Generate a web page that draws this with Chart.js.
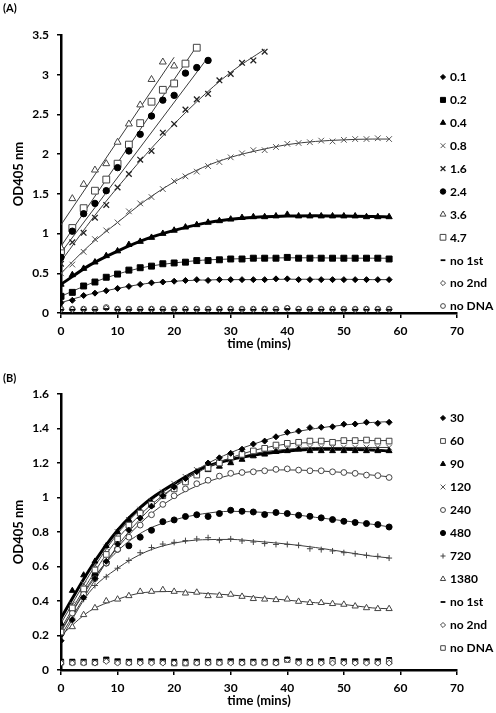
<!DOCTYPE html>
<html><head><meta charset="utf-8">
<script src="https://cdn.jsdelivr.net/npm/chart.js@4/dist/chart.umd.min.js"></script>
<style>
html,body{margin:0;padding:0;background:#fff;width:496px;height:713px;overflow:hidden}
canvas{position:absolute;left:0}
#cA{top:0}
#cB{top:357px}
</style></head><body>
<canvas id="cA" width="496" height="356"></canvas>
<canvas id="cB" width="496" height="356"></canvas>
<script>
// ---------- DATA ----------
const minutes = [0,2,4,6,8,10,12,14,16,18,20,22,24,26,28,30,32,34,36,38,40,42,44,46,48,50,52,54,56,58];
const fitMinutes = [0,5,10,15,20,25,30,35,40,45,50,55,58];
const xTicks = [0,10,20,30,40,50,60,70];
const yTicksA = [0,0.5,1,1.5,2,2.5,3,3.5];
const yTicksB = [0,0.2,0.4,0.6,0.8,1,1.2,1.4,1.6];

// Panel A series (OD405 per 2-min reading)
const labelsA = ['0.1','0.2','0.4','0.8','1.6','2.4','3.6','4.7','no 1st','no 2nd','no DNA'];
const a01 = [0.13,0.16,0.22,0.25,0.28,0.31,0.335,0.36,0.38,0.39,0.40,0.41,0.42,0.41,0.42,0.42,0.42,0.42,0.42,0.43,0.43,0.42,0.42,0.42,0.42,0.42,0.42,0.42,0.42,0.42];
const a02 = [0.21,0.26,0.34,0.39,0.45,0.49,0.54,0.57,0.59,0.62,0.63,0.64,0.66,0.66,0.67,0.68,0.68,0.69,0.69,0.69,0.70,0.69,0.69,0.69,0.69,0.69,0.69,0.69,0.69,0.68];
const a04 = [0.36,0.48,0.56,0.64,0.72,0.78,0.86,0.90,0.95,1.00,1.04,1.08,1.11,1.14,1.16,1.18,1.20,1.21,1.21,1.22,1.24,1.22,1.22,1.22,1.22,1.22,1.22,1.21,1.21,1.21];
const a08 = [0.50,0.61,0.77,0.93,1.04,1.14,1.28,1.38,1.46,1.56,1.66,1.72,1.78,1.85,1.90,1.96,2.01,2.05,2.05,2.09,2.13,2.14,2.15,2.17,2.16,2.18,2.19,2.19,2.20,2.19];
const a16 = [0.62,0.89,1.01,1.20,1.36,1.58,1.75,1.93,2.04,2.27,2.38,2.56,2.69,2.76,2.93,3.01,3.15,3.18,3.29];
const a24 = [0.70,1.03,1.25,1.38,1.54,1.83,2.04,2.25,2.48,2.68,2.74,3.02,3.09,3.18];
const a36 = [0.82,1.44,1.62,1.80,1.88,2.15,2.38,2.62,2.94,3.16,3.11];
const a47 = [0.78,1.07,1.32,1.54,1.68,1.88,2.12,2.39,2.66,2.81,2.89,3.14,3.34];
const aNo1st = [0.04,0.04,0.04,0.04,0.05,0.04,0.04,0.04,0.04,0.04,0.04,0.04,0.04,0.04,0.04,0.04,0.04,0.04,0.04,0.04,0.05,0.04,0.04,0.04,0.04,0.04,0.04,0.04,0.04,0.04];
const aNo2nd = [0.045,0.045,0.045,0.045,0.06,0.045,0.045,0.045,0.045,0.045,0.045,0.045,0.045,0.045,0.045,0.045,0.045,0.045,0.045,0.045,0.06,0.05,0.045,0.045,0.045,0.045,0.045,0.045,0.045,0.045];
const aNoDNA = [0.05,0.05,0.05,0.05,0.07,0.05,0.05,0.05,0.05,0.05,0.05,0.05,0.05,0.05,0.05,0.05,0.05,0.05,0.05,0.05,0.06,0.05,0.05,0.05,0.05,0.05,0.05,0.05,0.05,0.05];
// Panel A trend lines
const fitA01 = [0.13,0.235,0.31,0.37,0.40,0.415,0.42,0.42,0.425,0.425,0.425,0.42,0.42];
const fitA02 = [0.21,0.365,0.49,0.58,0.63,0.665,0.68,0.69,0.695,0.695,0.69,0.69,0.69];
const fitA04 = [0.36,0.60,0.78,0.93,1.04,1.125,1.18,1.21,1.22,1.225,1.22,1.215,1.21];
const fitA08 = [0.50,0.85,1.14,1.42,1.65,1.83,1.96,2.05,2.12,2.16,2.18,2.19,2.19];
const fitA16x = [0,6,12,18,24,30,36];
const fitA16 = [0.65,1.23,1.75,2.23,2.66,3.03,3.32];
const fitA24x = [0,26], fitA24 = [0.76,3.22];
const fitA36x = [0,20], fitA36 = [1.11,3.22];
const fitA47x = [0,24], fitA47 = [0.84,3.36];

// Panel B series
const labelsB = ['30','60','90','120','240','480','720','1380','no 1st','no 2nd','no DNA'];
const b30 = [0.17,0.29,0.42,0.53,0.63,0.73,0.81,0.88,0.95,1.01,1.06,1.11,1.15,1.20,1.23,1.256,1.28,1.31,1.327,1.352,1.378,1.385,1.405,1.407,1.41,1.425,1.426,1.436,1.43,1.436];
const b60 = [0.22,0.36,0.47,0.58,0.67,0.76,0.84,0.91,0.96,1.01,1.05,1.09,1.13,1.17,1.20,1.236,1.25,1.27,1.285,1.304,1.314,1.32,1.327,1.327,1.32,1.33,1.33,1.333,1.327,1.327];
const b90 = [0.27,0.46,0.55,0.63,0.72,0.80,0.87,0.92,0.97,1.02,1.06,1.10,1.14,1.16,1.18,1.20,1.22,1.24,1.25,1.265,1.27,1.28,1.27,1.27,1.27,1.27,1.27,1.27,1.27,1.27];
const b120 = [0.25,0.38,0.50,0.61,0.71,0.80,0.87,0.93,0.98,1.03,1.08,1.12,1.16,1.19,1.20,1.22,1.24,1.25,1.26,1.27,1.28,1.28,1.29,1.29,1.29,1.29,1.29,1.29,1.29,1.29];
const b240 = [0.22,0.33,0.44,0.53,0.62,0.70,0.77,0.84,0.90,0.96,1.01,1.05,1.08,1.10,1.124,1.14,1.145,1.149,1.155,1.163,1.166,1.159,1.155,1.155,1.149,1.145,1.14,1.13,1.127,1.116];
const b480 = [0.21,0.35,0.46,0.55,0.62,0.70,0.72,0.77,0.81,0.86,0.87,0.89,0.90,0.89,0.907,0.926,0.92,0.916,0.901,0.913,0.907,0.897,0.891,0.882,0.872,0.862,0.855,0.849,0.843,0.829];
const b720 = [0.17,0.30,0.41,0.49,0.54,0.59,0.635,0.68,0.71,0.73,0.74,0.75,0.76,0.767,0.752,0.76,0.748,0.742,0.733,0.728,0.728,0.723,0.703,0.698,0.69,0.68,0.674,0.665,0.659,0.649];
const b1380 = [0.22,0.25,0.32,0.36,0.40,0.41,0.43,0.455,0.455,0.465,0.455,0.445,0.45,0.43,0.432,0.438,0.426,0.413,0.41,0.407,0.41,0.397,0.39,0.39,0.384,0.38,0.37,0.36,0.355,0.355];
const bNo1st = [0.06,0.06,0.06,0.06,0.07,0.06,0.06,0.06,0.06,0.06,0.06,0.06,0.06,0.06,0.06,0.06,0.06,0.06,0.06,0.06,0.07,0.06,0.06,0.06,0.07,0.06,0.06,0.06,0.06,0.07];
const bNo2nd = [0.04,0.04,0.04,0.04,0.05,0.04,0.04,0.04,0.04,0.04,0.04,0.04,0.04,0.04,0.04,0.04,0.04,0.04,0.04,0.04,0.06,0.04,0.04,0.04,0.04,0.04,0.04,0.04,0.04,0.04];
const bNoDNA = [0.045,0.045,0.045,0.045,0.06,0.05,0.045,0.05,0.05,0.05,0.04,0.04,0.045,0.045,0.045,0.05,0.045,0.045,0.045,0.045,0.06,0.05,0.045,0.05,0.05,0.05,0.05,0.05,0.05,0.05];
// Panel B trend lines
const fitB30 = [0.20,0.47,0.72,0.91,1.06,1.18,1.26,1.32,1.37,1.40,1.42,1.435,1.44];
const fitB60 = [0.24,0.52,0.76,0.93,1.06,1.16,1.23,1.28,1.31,1.32,1.33,1.33,1.33];
const fitB90 = [0.30,0.58,0.81,0.97,1.08,1.17,1.22,1.25,1.27,1.28,1.28,1.275,1.27];
const fitB120 = [0.27,0.55,0.79,0.96,1.08,1.17,1.22,1.26,1.28,1.29,1.29,1.29,1.29];
const fitB240 = [0.23,0.49,0.71,0.88,1.00,1.08,1.13,1.155,1.16,1.155,1.145,1.13,1.12];
const fitB480 = [0.22,0.50,0.69,0.81,0.87,0.905,0.92,0.915,0.905,0.885,0.865,0.845,0.83];
const fitB720 = [0.18,0.45,0.59,0.685,0.735,0.755,0.757,0.745,0.73,0.71,0.685,0.66,0.65];
const fitB1380 = [0.20,0.34,0.41,0.45,0.455,0.445,0.435,0.42,0.405,0.39,0.38,0.36,0.355];

// ---------- STYLES ----------
const FONT = "Lato, 'Open Sans', 'DejaVu Sans', sans-serif";
Chart.defaults.font.family = FONT;
Chart.defaults.color = '#000';
const OPEN = '#ffffff';
const stylesA = {
  '0.1':{ps:'rectRot',r:3,fill:'#000',stroke:'#000',bw:1},
  '0.2':{ps:'rect',r:4.2,fill:'#000',stroke:'#000',bw:1},
  '0.4':{ps:'triangle',r:3.6,fill:'#000',stroke:'#000',bw:1},
  '0.8':{ps:'crossRot',r:4,fill:null,stroke:'#555',bw:1},
  '1.6':{ps:'crossRot',r:4,fill:null,stroke:'#222',bw:1.3},
  '2.4':{ps:'circle',r:3.2,fill:'#000',stroke:'#000',bw:1},
  '3.6':{ps:'triangle',r:4,fill:OPEN,stroke:'#444',bw:1},
  '4.7':{ps:'rect',r:4.8,fill:OPEN,stroke:'#444',bw:1},
  'no 1st':{ps:'line',r:2.8,fill:null,stroke:'#000',bw:1.8},
  'no 2nd':{ps:'rectRot',r:3,fill:OPEN,stroke:'#444',bw:1},
  'no DNA':{ps:'circle',r:2.8,fill:OPEN,stroke:'#444',bw:1}
};
const stylesB = {
  '30':{ps:'rectRot',r:3,fill:'#000',stroke:'#000',bw:1},
  '60':{ps:'rect',r:4,fill:OPEN,stroke:'#444',bw:1},
  '90':{ps:'triangle',r:3.4,fill:'#000',stroke:'#000',bw:1},
  '120':{ps:'crossRot',r:4,fill:null,stroke:'#555',bw:1},
  '240':{ps:'circle',r:2.9,fill:OPEN,stroke:'#444',bw:1},
  '480':{ps:'circle',r:3,fill:'#000',stroke:'#000',bw:1},
  '720':{ps:'cross',r:3,fill:null,stroke:'#444',bw:1},
  '1380':{ps:'triangle',r:3.6,fill:OPEN,stroke:'#444',bw:1},
  'no 1st':{ps:'line',r:2.8,fill:null,stroke:'#000',bw:1.8},
  'no 2nd':{ps:'rectRot',r:3,fill:OPEN,stroke:'#444',bw:1},
  'no DNA':{ps:'rect',r:3.8,fill:OPEN,stroke:'#444',bw:1}
};

// ---------- BUILD ----------
const zip = (xs, ys) => ys.map((y,i)=>({x:xs[i], y}));
function markers(label, values, styles){
  const s = styles[label];
  return {label, data: zip(minutes, values), showLine:false, order:0,
    pointStyle:s.ps, pointRadius:s.r, pointHoverRadius:s.r,
    pointBackgroundColor:s.fill||'rgba(0,0,0,0)', pointBorderColor:s.stroke, pointBorderWidth:s.bw};
}
function trend(xs, values, width, color){
  return {label:'_fit', data: zip(xs, values), showLine:true, order:5,
    borderColor:color||'#3c3c3c', borderWidth:width||1, pointRadius:0, pointHoverRadius:0,
    cubicInterpolationMode:'monotone', fill:false};
}

const markerLegend = {
  id:'markerLegend',
  afterDraw(chart, args, o){
    const ctx = chart.ctx;
    ctx.save();
    o.items.forEach((lab,i)=>{
      const s = o.styles[lab];
      const y = o.y0 + i*o.dy;
      ctx.fillStyle = s.fill || 'rgba(0,0,0,0)';
      ctx.strokeStyle = s.stroke;
      ctx.lineWidth = s.bw;
      Chart.helpers.drawPoint(ctx, {pointStyle:s.ps, radius:s.r*0.85, rotation:0, borderWidth:s.bw}, o.x, y);
      ctx.fillStyle = '#000';
      ctx.font = 'bold 12px ' + FONT;
      ctx.textBaseline = 'middle';
      ctx.textAlign = 'left';
      ctx.fillText(lab, o.x + 7, y + 0.5);
    });
    ctx.font = 'bold 11px ' + FONT;
    ctx.textBaseline = 'middle';
    ctx.fillStyle = '#000';
    ctx.fillText(o.panel, 3, o.panelY);
    ctx.restore();
  }
};

function options(yTicks, yMax, padTop, legendCfg){
  const fixTicks = arr => s => { s.ticks = arr.map(v=>({value:v})); };
  return {
    responsive:false, animation:false, devicePixelRatio:1,
    layout:{padding:{top:padTop, right:39, left:0, bottom:0}},
    plugins:{legend:{display:false}, tooltip:{enabled:false}, markerLegend:legendCfg},
    scales:{
      x:{type:'linear', min:0, max:70, afterBuildTicks:fixTicks(xTicks),
        afterFit:s=>{s.height=43;},
        grid:{drawOnChartArea:false, drawTicks:true, tickLength:5, color:'#000', lineWidth:1.5},
        border:{display:true, color:'#000', width:2.5},
        ticks:{font:{size:12, weight:'bold'}, color:'#000', padding:6, maxRotation:0,
          callback:v=>String(+v.toFixed(2))},
        title:{display:true, text:'time (mins)', font:{size:13, weight:'bold'}, color:'#000', padding:{top:0,bottom:4}}},
      y:{type:'linear', min:0, max:yMax, afterBuildTicks:fixTicks(yTicks),
        afterFit:s=>{s.width=61;},
        grid:{drawOnChartArea:false, drawTicks:true, tickLength:4, color:'#000', lineWidth:1.5},
        border:{display:true, color:'#000', width:2.5},
        ticks:{font:{size:12, weight:'bold'}, color:'#000', padding:8,
          callback:v=>String(+v.toFixed(2))},
        title:{display:true, text:'OD405 nm', font:{size:13, weight:'bold'}, color:'#000', padding:{top:11,bottom:0}}}
    }
  };
}

const dsA = [
  markers('0.1', a01, stylesA), markers('0.2', a02, stylesA), markers('0.4', a04, stylesA),
  markers('0.8', a08, stylesA), markers('1.6', a16, stylesA), markers('2.4', a24, stylesA),
  markers('3.6', a36, stylesA), markers('4.7', a47, stylesA),
  markers('no 1st', aNo1st, stylesA), markers('no 2nd', aNo2nd, stylesA), markers('no DNA', aNoDNA, stylesA),
  trend(fitMinutes, fitA01), trend(fitMinutes, fitA02), trend(fitMinutes, fitA04, 3, '#000'),
  trend(fitMinutes, fitA08), trend(fitA16x, fitA16), trend(fitA24x, fitA24),
  trend(fitA36x, fitA36), trend(fitA47x, fitA47)
];
const dsB = [
  markers('30', b30, stylesB), markers('60', b60, stylesB), markers('90', b90, stylesB),
  markers('120', b120, stylesB), markers('240', b240, stylesB), markers('480', b480, stylesB),
  markers('720', b720, stylesB), markers('1380', b1380, stylesB),
  markers('no 1st', bNo1st, stylesB), markers('no 2nd', bNo2nd, stylesB), markers('no DNA', bNoDNA, stylesB),
  trend(fitMinutes, fitB30), trend(fitMinutes, fitB60), trend(fitMinutes, fitB90, 3, '#000'),
  trend(fitMinutes, fitB120), trend(fitMinutes, fitB240), trend(fitMinutes, fitB480),
  trend(fitMinutes, fitB720), trend(fitMinutes, fitB1380)
];

new Chart(document.getElementById('cA'), {
  type:'scatter', data:{datasets:dsA},
  options:options(yTicksA, 3.5, 35, {items:labelsA, styles:stylesA, x:443, y0:77, dy:22.9, panel:'(A)', panelY:8}),
  plugins:[markerLegend]
});
new Chart(document.getElementById('cB'), {
  type:'scatter', data:{datasets:dsB},
  options:options(yTicksB, 1.6, 37, {items:labelsB, styles:stylesB, x:443, y0:61, dy:23, panel:'(B)', panelY:21}),
  plugins:[markerLegend]
});
</script>
</body></html>
